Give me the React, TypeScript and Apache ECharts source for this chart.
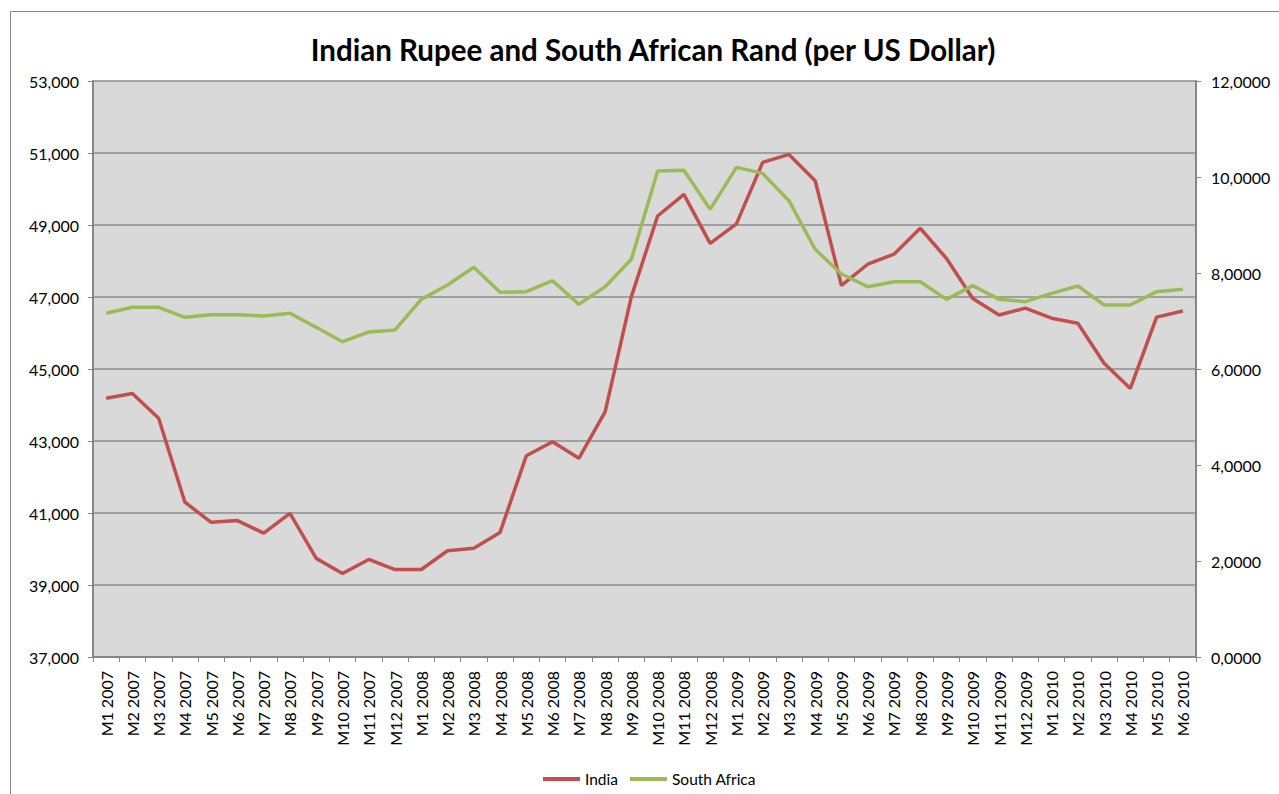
import React, { useEffect, useRef } from 'react';
import * as echarts from 'echarts';

const categories = [
  'M1 2007', 'M2 2007', 'M3 2007', 'M4 2007', 'M5 2007', 'M6 2007', 'M7 2007', 'M8 2007', 'M9 2007', 'M10 2007', 'M11 2007', 'M12 2007',
  'M1 2008', 'M2 2008', 'M3 2008', 'M4 2008', 'M5 2008', 'M6 2008', 'M7 2008', 'M8 2008', 'M9 2008', 'M10 2008', 'M11 2008', 'M12 2008',
  'M1 2009', 'M2 2009', 'M3 2009', 'M4 2009', 'M5 2009', 'M6 2009', 'M7 2009', 'M8 2009', 'M9 2009', 'M10 2009', 'M11 2009', 'M12 2009',
  'M1 2010', 'M2 2010', 'M3 2010', 'M4 2010', 'M5 2010', 'M6 2010',
];

const india = [
  44190, 44320, 43630, 41300, 40740, 40790, 40440, 40990, 39740, 39320,
  39710, 39430, 39430, 39950, 40020, 40460, 42590, 42980, 42520, 43810,
  47010, 49250, 49850, 48490, 49030, 50740, 50960, 50230, 47320, 47910,
  48190, 48910, 48070, 46960, 46500, 46690, 46410, 46270, 45160, 44460,
  46440, 46610,
];

const southAfrica = [
  7.16, 7.285, 7.285, 7.077, 7.132, 7.132, 7.104, 7.16, 6.868, 6.569,
  6.771, 6.813, 7.451, 7.75, 8.12, 7.597, 7.611, 7.84, 7.347, 7.715,
  8.285, 10.125, 10.139, 9.326, 10.2, 10.076, 9.507, 8.493, 7.979, 7.715,
  7.819, 7.819, 7.451, 7.736, 7.451, 7.403, 7.576, 7.729, 7.333, 7.333,
  7.611, 7.66,
];

const leftTicks = [37000, 39000, 41000, 43000, 45000, 47000, 49000, 51000, 53000];
const rightTicks = [0, 2, 4, 6, 8, 10, 12];

const TITLE = 'Indian Rupee and South African Rand (per US Dollar)';
const FONT = 'Lato, "Liberation Sans", sans-serif';

export default function App() {
  const ref = useRef<HTMLDivElement>(null);

  useEffect(() => {
    if (!ref.current) return;
    const chart = echarts.init(ref.current, null, { renderer: 'svg' });
    const axisGray = '#868686';
    chart.setOption({
      animation: false,
      backgroundColor: '#ffffff',
      textStyle: { fontFamily: FONT },
      title: {
        text: TITLE,
        left: 648,
        textAlign: 'center',
        top: 29,
        textStyle: { fontFamily: FONT, fontSize: 29.5, fontWeight: 'bold', color: '#000' },
      },
      graphic: [
        {
          type: 'rect',
          shape: { x: 10.5, y: 11.5, width: 1400, height: 900 },
          style: { fill: 'none', stroke: axisGray, lineWidth: 1 },
          silent: true,
        },
      ],
      legend: {
        left: 538,
        top: 766,
        itemWidth: 37,
        itemHeight: 4,
        itemGap: 12,
        icon: 'rect',
        textStyle: { fontFamily: FONT, fontSize: 15.5, color: '#000' },
        data: ['India', 'South Africa'],
      },
      grid: {
        left: 93,
        right: 83,
        top: 81,
        bottom: 137,
        show: true,
        backgroundColor: '#D9D9D9',
        borderWidth: 0,
      },
      xAxis: {
        type: 'category',
        data: categories,
        boundaryGap: true,
        axisLine: { lineStyle: { color: axisGray, width: 2 } },
        axisTick: { show: true, length: 5, lineStyle: { color: axisGray, width: 1 } },
        axisLabel: {
          rotate: 90,
          interval: 0,
          margin: 14,
          fontSize: 16,
          color: '#000',
          fontFamily: FONT,
        },
        splitLine: { show: false },
      },
      yAxis: [
        {
          type: 'value',
          position: 'left',
          min: 37000,
          max: 53000,
          axisLine: { show: true, lineStyle: { color: axisGray, width: 2 } },
          axisTick: { show: true, length: 5, customValues: leftTicks, lineStyle: { color: axisGray } },
          axisLabel: {
            customValues: leftTicks,
            margin: 14,
            fontSize: 16,
            color: '#000',
            fontFamily: FONT,
            formatter: (v: number) => v.toLocaleString('en-US'),
          },
          splitLine: { show: true, lineStyle: { color: '#8C8C8C', width: 1.5 } },
        },
        {
          type: 'value',
          position: 'right',
          min: 0,
          max: 12,
          interval: 2,
          axisLine: { show: true, lineStyle: { color: axisGray, width: 2 } },
          axisTick: { show: true, length: 5, customValues: rightTicks, lineStyle: { color: axisGray } },
          axisLabel: {
            customValues: rightTicks,
            margin: 15,
            fontSize: 16,
            color: '#000',
            fontFamily: FONT,
            formatter: (v: number) => v.toFixed(4).replace('.', ','),
          },
          splitLine: { show: false },
        },
      ],
      series: [
        {
          name: 'India',
          type: 'line',
          yAxisIndex: 0,
          data: india,
          symbol: 'none',
          lineStyle: { color: '#C0504D', width: 3.5 },
          itemStyle: { color: '#C0504D' },
        },
        {
          name: 'South Africa',
          type: 'line',
          yAxisIndex: 1,
          data: southAfrica,
          symbol: 'none',
          lineStyle: { color: '#9BBB59', width: 3.5 },
          itemStyle: { color: '#9BBB59' },
        },
      ],
    });
    return () => chart.dispose();
  }, []);

  return (
    <div
      ref={ref}
      style={{ position: 'fixed', left: 0, top: 0, width: 1279, height: 794 }}
    />
  );
}
